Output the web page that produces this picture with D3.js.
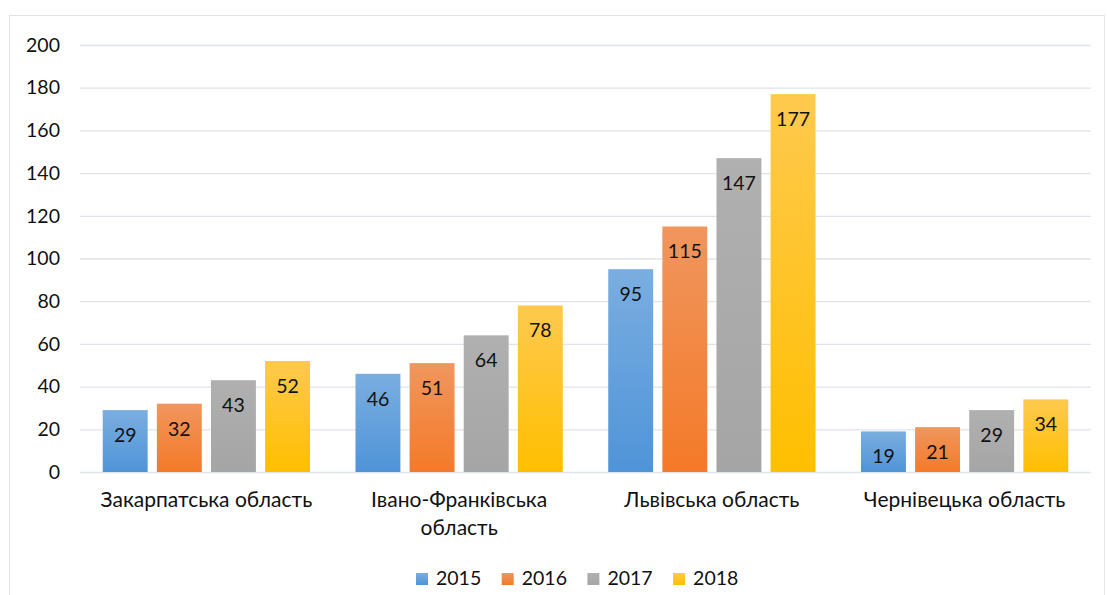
<!DOCTYPE html>
<html>
<head>
<meta charset="utf-8">
<script src="https://cdn.jsdelivr.net/npm/d3@7"></script>
<style>
  body { margin: 0; background: #fff; }
  text { font-family: Lato, "Open Sans", sans-serif; }
</style>
</head>
<body>
<div id="chart"></div>
<script>
const regions = ["Закарпатська область", "Івано-Франківська область", "Львівська область", "Чернівецька область"];
const regionLines = [["Закарпатська область"], ["Івано-Франківська", "область"], ["Львівська область"], ["Чернівецька область"]];
const years = ["2015", "2016", "2017", "2018"];
const v2015 = [29, 46, 95, 19];
const v2016 = [32, 51, 115, 21];
const v2017 = [43, 64, 147, 29];
const v2018 = [52, 78, 177, 34];
const yTicks = [0, 20, 40, 60, 80, 100, 120, 140, 160, 180, 200];

const seriesValues = [v2015, v2016, v2017, v2018];
const colorsTop = ["#7aaee0", "#f0965e", "#b0b0b0", "#ffc94e"];
const colorsBottom = ["#4f94d8", "#f47a28", "#a5a5a5", "#ffbf00"];

const width = 1107, height = 595,
  margin = {top: 45, right: 16, bottom: 123, left: 80},
  fontSize = 19.5;

const svg = d3.select("#chart")
  .append("svg")
  .attr("width", width)
  .attr("height", height);

// frame
svg.append("rect")
  .attr("x", 9.5).attr("y", 15.5)
  .attr("width", width - 12).attr("height", height)
  .attr("fill", "none")
  .attr("stroke", "#e3e3e3");

const defs = svg.append("defs");
years.forEach((yr, i) => {
  const g = defs.append("linearGradient")
    .attr("id", "grad" + i)
    .attr("x1", 0).attr("y1", 0).attr("x2", 0).attr("y2", 1);
  g.append("stop").attr("offset", "0%").attr("stop-color", colorsTop[i]);
  g.append("stop").attr("offset", "100%").attr("stop-color", colorsBottom[i]);
});

const x = d3.scaleBand(regions, [margin.left, width - margin.right]);
const xi = d3.scaleBand(years, [0, x.bandwidth()]).paddingInner(0.17).paddingOuter(0.42);
const y = d3.scaleLinear([0, 200], [height - margin.bottom, margin.top]);

// grid
svg.append("g")
  .attr("transform", `translate(${margin.left},0)`)
  .call(d3.axisLeft(y).tickValues(yTicks).tickSize(-(width - margin.left - margin.right)).tickPadding(20))
  .call(g => g.select(".domain").remove())
  .call(g => g.selectAll(".tick line").attr("stroke", "#dfe3ea").attr("stroke-width", 1.3))
  .call(g => g.selectAll(".tick text").attr("font-size", fontSize).attr("fill", "#111"));

const groups = svg.append("g")
  .selectAll("g")
  .data(regions)
  .join("g")
  .attr("transform", d => `translate(${x(d)},0)`);

groups.selectAll("rect")
  .data((d, ri) => years.map((yr, si) => ({yr, si, v: seriesValues[si][ri]})))
  .join("rect")
  .attr("x", d => xi(d.yr))
  .attr("y", d => y(d.v))
  .attr("width", xi.bandwidth())
  .attr("height", d => y(0) - y(d.v))
  .attr("fill", d => `url(#grad${d.si})`);

groups.selectAll("text.val")
  .data((d, ri) => years.map((yr, si) => ({yr, si, v: seriesValues[si][ri]})))
  .join("text")
  .attr("class", "val")
  .attr("x", d => xi(d.yr) + xi.bandwidth() / 2)
  .attr("y", d => y(d.v) + 32)
  .attr("text-anchor", "middle")
  .attr("font-size", fontSize)
  .attr("fill", "#111")
  .text(d => d.v);

// category labels
groups.append("text")
  .attr("x", x.bandwidth() / 2)
  .attr("y", y(0) + 35)
  .attr("text-anchor", "middle")
  .attr("font-size", 21)
  .attr("fill", "#111")
  .selectAll("tspan")
  .data((d, i) => regionLines[i])
  .join("tspan")
  .attr("x", x.bandwidth() / 2)
  .attr("dy", (d, i) => i === 0 ? 0 : 28)
  .text(d => d);

// legend
const legend = svg.selectAll(".legend-group")
  .data(years)
  .join("g")
  .attr("class", "legend-group")
  .attr("transform", (d, i) => `translate(${416 + i * 85.7},573)`);

legend.append("rect")
  .attr("width", 12).attr("height", 12)
  .attr("fill", (d, i) => `url(#grad${i})`);

legend.append("text")
  .attr("x", 20)
  .attr("y", 12)
  .attr("font-size", fontSize)
  .attr("fill", "#111")
  .text(d => d);
</script>
</body>
</html>
